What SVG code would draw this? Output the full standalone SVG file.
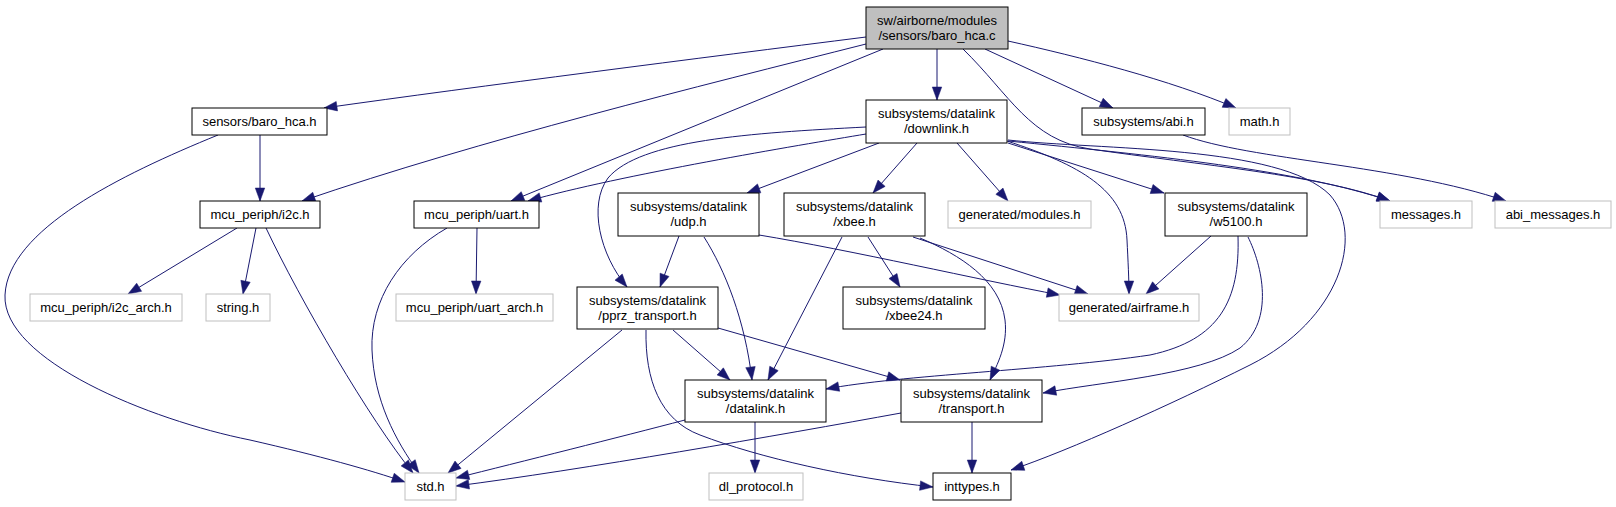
<svg xmlns="http://www.w3.org/2000/svg" width="1616" height="507" viewBox="0 0 1616 507">
<style>
text{font-family:"Liberation Sans",Arial,Helvetica,sans-serif;font-size:13px;fill:#000;text-anchor:middle}
.n rect{fill:#fff;stroke:#000;stroke-width:1}
.g rect{fill:#fff;stroke:#bfbfbf;stroke-width:1}
.m rect{fill:#bfbfbf;stroke:#000;stroke-width:1}
#edges path{fill:none;stroke:#191970;stroke-width:1;marker-end:url(#ah)}
</style>
<defs>
<marker id="ah" markerUnits="userSpaceOnUse" markerWidth="13" markerHeight="10" refX="13" refY="4.75" orient="auto" overflow="visible">
<path d="M0,0 L13,4.75 L0,9.5 z" fill="#191970" stroke="#191970" stroke-width="0.5"/>
</marker>
</defs>
<rect width="1616" height="507" fill="#fff"/>
<g id="edges">
<path d="M866,37 C700,58 480,86 324,108"/>
<path d="M866,44 C700,86 480,140 302,201"/>
<path d="M883,49 L511,201"/>
<path d="M937,49 L937,100"/>
<path d="M963,49 C1010,95 1030,140 1090,149 C1200,165 1320,175 1390,201"/>
<path d="M985,49 L1113,108"/>
<path d="M1008,41 C1080,57 1170,80 1236,108"/>
<path d="M866,134 C800,145 620,175 528,201"/>
<path d="M866,127 C750,133 640,140 608,178 C588,205 600,255 627,287"/>
<path d="M879,143 L747,193"/>
<path d="M917,143 L873,193"/>
<path d="M957,143 L1008,201"/>
<path d="M1007,141 C1080,165 1125,190 1127,240 C1128,260 1129,280 1129,294"/>
<path d="M1008,143 L1164,193"/>
<path d="M1008,141 C1150,155 1300,170 1390,201"/>
<path d="M1008,140 C1100,150 1280,145 1330,195 C1365,235 1340,320 1250,365 C1170,405 1070,450 1011,470"/>
<path d="M1183,135 C1250,160 1400,165 1506,201"/>
<path d="M260,135 L260,201"/>
<path d="M218,135 C120,175 8,230 5,295 C2,360 150,420 250,440 C320,456 370,470 405,482"/>
<path d="M237,228 L128,294"/>
<path d="M256,228 L243,294"/>
<path d="M266,228 C300,300 370,420 413,473"/>
<path d="M477,228 L476,294"/>
<path d="M447,228 C400,255 370,300 372,350 C374,400 395,440 419,473"/>
<path d="M679,236 L660,287"/>
<path d="M704,237 C725,270 745,320 752,380"/>
<path d="M759,235 C850,250 980,280 1060,295"/>
<path d="M842,237 L768,380"/>
<path d="M868,237 L900,287"/>
<path d="M913,237 L1088,294"/>
<path d="M920,238 C960,255 1000,280 1005,320 C1008,345 997,365 990,380"/>
<path d="M1211,236 L1146,294"/>
<path d="M1238,236 C1240,300 1220,340 1150,355 C1050,370 900,375 826,389"/>
<path d="M1248,237 C1262,265 1275,320 1240,348 C1200,375 1100,382 1043,393"/>
<path d="M622,330 L448,473"/>
<path d="M673,330 L730,380"/>
<path d="M718,328 L900,380"/>
<path d="M646,330 C645,380 660,420 700,435 C760,458 850,478 933,487"/>
<path d="M685,420 C620,437 520,462 456,478"/>
<path d="M755,422 L755,473"/>
<path d="M901,413 C780,435 580,470 456,486"/>
<path d="M972,422 L972,473"/>
</g>
<g id="node_main" class="m"><rect x="866" y="7" width="142" height="42"/><text x="937" y="24.5">sw/airborne/modules</text><text x="937" y="39.5">/sensors/baro_hca.c</text></g>
<g id="node_baro_hca_h" class="n"><rect x="192" y="108" width="135" height="27"/><text x="259.5" y="126">sensors/baro_hca.h</text></g>
<g id="node_i2c_h" class="n"><rect x="200" y="201" width="120" height="27"/><text x="260" y="219">mcu_periph/i2c.h</text></g>
<g id="node_uart_h" class="n"><rect x="414" y="201" width="125" height="27"/><text x="476.5" y="219">mcu_periph/uart.h</text></g>
<g id="node_downlink_h" class="n"><rect x="866" y="100" width="141" height="43"/><text x="936.5" y="118">subsystems/datalink</text><text x="936.5" y="133">/downlink.h</text></g>
<g id="node_abi_h" class="n"><rect x="1082" y="108" width="123" height="27"/><text x="1143.5" y="126">subsystems/abi.h</text></g>
<g id="node_math_h" class="g"><rect x="1229" y="108" width="61" height="27"/><text x="1259.5" y="126">math.h</text></g>
<g id="node_udp_h" class="n"><rect x="618" y="193" width="141" height="43"/><text x="688.5" y="211">subsystems/datalink</text><text x="688.5" y="226">/udp.h</text></g>
<g id="node_xbee_h" class="n"><rect x="784" y="193" width="141" height="43"/><text x="854.5" y="211">subsystems/datalink</text><text x="854.5" y="226">/xbee.h</text></g>
<g id="node_modules_h" class="g"><rect x="948" y="201" width="143" height="27"/><text x="1019.5" y="219">generated/modules.h</text></g>
<g id="node_w5100_h" class="n"><rect x="1165" y="193" width="142" height="43"/><text x="1236" y="211">subsystems/datalink</text><text x="1236" y="226">/w5100.h</text></g>
<g id="node_messages_h" class="g"><rect x="1380" y="201" width="92" height="27"/><text x="1426" y="219">messages.h</text></g>
<g id="node_abi_messages_h" class="g"><rect x="1495" y="201" width="116" height="27"/><text x="1553" y="219">abi_messages.h</text></g>
<g id="node_i2c_arch_h" class="g"><rect x="30" y="294" width="152" height="27"/><text x="106" y="312">mcu_periph/i2c_arch.h</text></g>
<g id="node_string_h" class="g"><rect x="206" y="294" width="64" height="27"/><text x="238" y="312">string.h</text></g>
<g id="node_uart_arch_h" class="g"><rect x="396" y="294" width="157" height="27"/><text x="474.5" y="312">mcu_periph/uart_arch.h</text></g>
<g id="node_pprz_transport_h" class="n"><rect x="577" y="287" width="141" height="42"/><text x="647.5" y="304.5">subsystems/datalink</text><text x="647.5" y="319.5">/pprz_transport.h</text></g>
<g id="node_xbee24_h" class="n"><rect x="843" y="287" width="142" height="42"/><text x="914" y="304.5">subsystems/datalink</text><text x="914" y="319.5">/xbee24.h</text></g>
<g id="node_airframe_h" class="g"><rect x="1059" y="294" width="140" height="27"/><text x="1129" y="312">generated/airframe.h</text></g>
<g id="node_datalink_h" class="n"><rect x="685" y="380" width="141" height="42"/><text x="755.5" y="397.5">subsystems/datalink</text><text x="755.5" y="412.5">/datalink.h</text></g>
<g id="node_transport_h" class="n"><rect x="901" y="380" width="141" height="42"/><text x="971.5" y="397.5">subsystems/datalink</text><text x="971.5" y="412.5">/transport.h</text></g>
<g id="node_std_h" class="g"><rect x="405" y="473" width="51" height="27"/><text x="430.5" y="491">std.h</text></g>
<g id="node_dl_protocol_h" class="g"><rect x="709" y="473" width="94" height="27"/><text x="756" y="491">dl_protocol.h</text></g>
<g id="node_inttypes_h" class="n"><rect x="933" y="473" width="78" height="27"/><text x="972" y="491">inttypes.h</text></g>
</svg>
